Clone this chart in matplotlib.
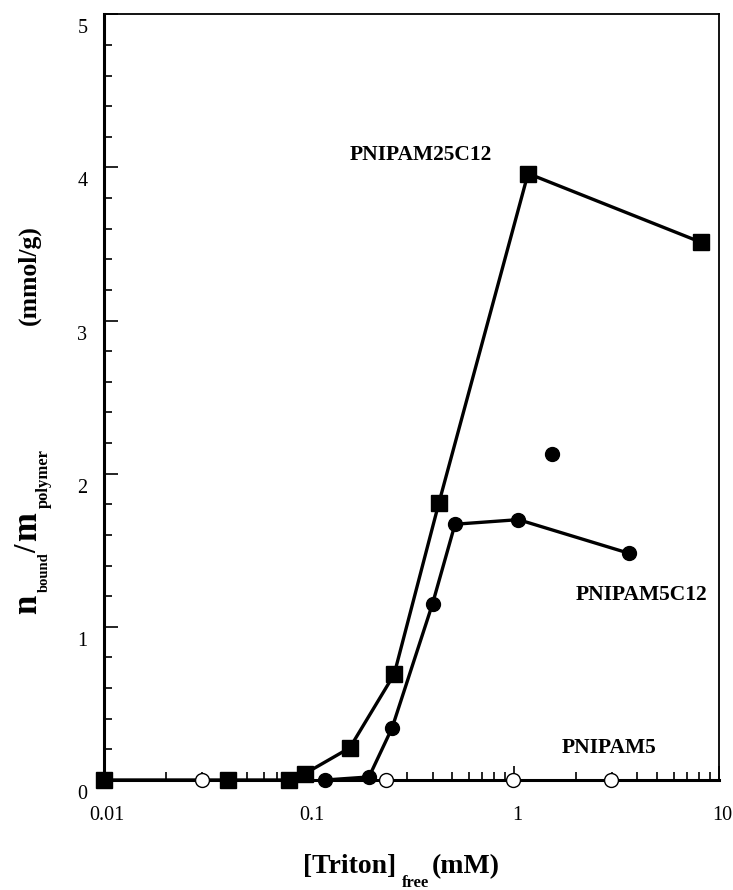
import numpy as np
import matplotlib
matplotlib.use("Agg")
import matplotlib.pyplot as plt
from matplotlib.ticker import MultipleLocator, LogLocator, NullFormatter, FixedLocator, FixedFormatter
from matplotlib.transforms import ScaledTranslation, IdentityTransform

plt.rcParams['font.family'] = 'Liberation Serif'

# PNIPAM25C12 (filled squares)
x_25c12 = [0.01, 0.040, 0.080, 0.095, 0.158, 0.26, 0.43, 1.17, 8.2]
y_25c12 = [0.0, 0.0, 0.0, 0.04, 0.21, 0.69, 1.81, 3.96, 3.51]

# PNIPAM5C12 (filled circles)
x_5c12 = [0.12, 0.196, 0.254, 0.40, 0.515, 1.05, 3.64]
y_5c12 = [0.0, 0.02, 0.34, 1.15, 1.67, 1.70, 1.48]
x_5c12_extra = [1.53]
y_5c12_extra = [2.13]

# PNIPAM5 (open circles)
x_5 = [0.030, 0.238, 0.99, 2.97]
y_5 = [0.0, 0.0, 0.0, 0.0]

xticks = [0.01, 0.1, 1, 10]
xticklabels = ['0.01', '0.1', '1', '10']

fig = plt.figure(figsize=(7.33, 8.9), dpi=100)
ax = fig.add_axes([0.142, 0.1236, 0.839, 0.8604])

ax.plot(x_25c12, y_25c12, '-', color='black', lw=2.4, marker='s', ms=11,
        mfc='black', mec='black', clip_on=False, zorder=3)
ax.plot(x_5c12, y_5c12, '-', color='black', lw=2.4, marker='o', ms=10,
        mfc='black', mec='black', clip_on=False, zorder=3)
ax.plot(x_5c12_extra, y_5c12_extra, 'o', color='black', ms=10, clip_on=False, zorder=3)
ax.plot(x_5, y_5, 'o', ms=10, mfc='white', mec='black', mew=1, clip_on=False, zorder=4)

ax.set_xscale('log')
ax.set_xlim(0.01, 10)
ax.set_ylim(0, 5)

ax.xaxis.set_major_locator(FixedLocator(xticks))
ax.xaxis.set_major_formatter(FixedFormatter(xticklabels))
ax.xaxis.set_minor_locator(LogLocator(base=10, subs=np.arange(2, 10)))
ax.xaxis.set_minor_formatter(NullFormatter())
ax.yaxis.set_major_locator(MultipleLocator(1))
ax.yaxis.set_minor_locator(MultipleLocator(0.2))

ax.tick_params(which='both', direction='in', top=False, right=False, labelsize=14.5, width=1.2)
ax.tick_params(which='major', length=10)
ax.tick_params(which='minor', length=6)
ax.tick_params(axis='x', which='major', pad=19)
ax.tick_params(axis='y', which='major', pad=12)

# y tick labels sit a little below their ticks in the original
for lab in ax.get_yticklabels():
    lab.set_transform(lab.get_transform() + ScaledTranslation(0, -0.12, fig.dpi_scale_trans))
for lab in ax.get_xticklabels():
    lab.set_transform(lab.get_transform() + ScaledTranslation(0.03, 0, fig.dpi_scale_trans))

for s in ['left', 'bottom']:
    ax.spines[s].set_linewidth(2.2)
for s in ['top', 'right']:
    ax.spines[s].set_linewidth(1.3)

ax.text(0.35, 4.08, 'PNIPAM25C12', fontsize=15.5, fontweight='bold', ha='center', va='center')
ax.text(4.17, 1.21, 'PNIPAM5C12', fontsize=15.5, fontweight='bold', ha='center', va='center')
ax.text(2.9, 0.21, 'PNIPAM5', fontsize=15.5, fontweight='bold', ha='center', va='center')

# axis titles built from pieces (pixel positions, origin at bottom-left)
H = 890
px = IdentityTransform()
def piece(x, y, s, size, rot=0):
    fig.text(x, H - y, s, fontsize=size, fontweight='bold', transform=px,
             ha='left', va='baseline', rotation=rot, rotation_mode='anchor')

piece(303, 873, '[Triton]', 20)
piece(402, 887, 'free', 12)
piece(432, 873, '(mM)', 20)

piece(36, 614, 'n', 25, 90)
piece(48, 592, 'bound', 10.5, 90)
piece(36, 553, '/', 22, 90)
piece(36, 541, 'm', 25, 90)
piece(48, 508, 'polymer', 12, 90)
piece(35, 325, '(mmol/g)', 18.5, 90)

fig.savefig('out.png', dpi=100)
